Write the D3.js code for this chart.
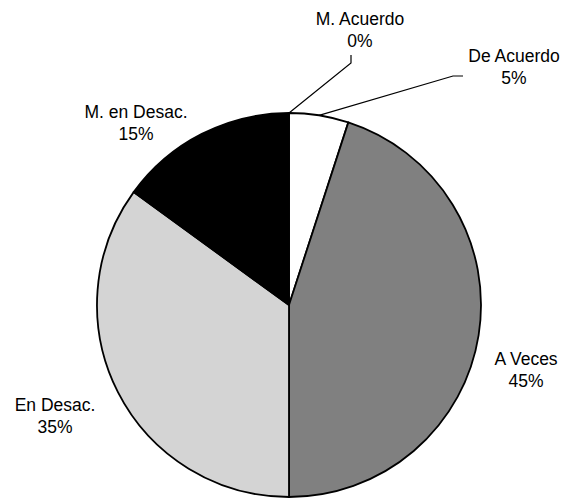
<!DOCTYPE html>
<html>
<head>
<meta charset="utf-8">
<script src="https://cdn.jsdelivr.net/npm/d3@7"></script>
<style>
  html, body { margin: 0; padding: 0; background: #fff; }
  svg text { font-family: "Liberation Sans", Arial, sans-serif; font-size: 17.5px; fill: #000; }
</style>
</head>
<body>
<svg id="chart" width="564" height="499"></svg>
<script>
// Survey response shares (percent)
const categories = ["M. Acuerdo", "De Acuerdo", "A Veces", "En Desac.", "M. en Desac."];
const values = [0, 5, 45, 35, 15];
const sliceColors = ["#ffffff", "#ffffff", "#808080", "#d4d4d4", "#000000"];

const svg = d3.select("#chart");
const cx = 289, cy = 305, radius = 192;

const pie = d3.pie().sort(null).value(d => d.value);
const arcs = pie(categories.map((c, i) => ({ name: c, value: values[i], color: sliceColors[i] })));

const arc = d3.arc().innerRadius(0).outerRadius(radius);

const g = svg.append("g").attr("transform", `translate(${cx},${cy})`);

g.selectAll("path.slice")
  .data(arcs.filter(d => d.value > 0))
  .join("path")
  .attr("class", "slice")
  .attr("d", arc)
  .attr("fill", d => d.data.color)
  .attr("stroke", "#000")
  .attr("stroke-width", 1.8)
  .attr("stroke-linejoin", "round");

// Label placement: text centre + first baseline, optional leader path (bend, end)
const labelLayout = {
  "M. Acuerdo":   { x: 360, y: 25,  leader: [[351, 63], [351, 55]] },
  "De Acuerdo":   { x: 514, y: 62,  leader: [[453, 76], [463, 76]] },
  "A Veces":      { x: 526, y: 365 },
  "En Desac.":    { x: 55,  y: 411 },
  "M. en Desac.": { x: 136, y: 118 }
};

const pct = d3.format(".0f");

arcs.forEach(d => {
  const L = labelLayout[d.data.name];
  if (L.leader) {
    const mid = (d.startAngle + d.endAngle) / 2;
    const start = [cx + radius * Math.sin(mid), cy - radius * Math.cos(mid)];
    svg.append("path")
      .attr("d", d3.line()([start, ...L.leader]))
      .attr("fill", "none")
      .attr("stroke", "#000")
      .attr("stroke-width", 1.2);
  }
  const t = svg.append("text").attr("text-anchor", "middle");
  t.append("tspan").attr("x", L.x).attr("y", L.y).text(d.data.name);
  t.append("tspan").attr("x", L.x).attr("y", L.y + 22).text(pct(d.value) + "%");
});
</script>
</body>
</html>
